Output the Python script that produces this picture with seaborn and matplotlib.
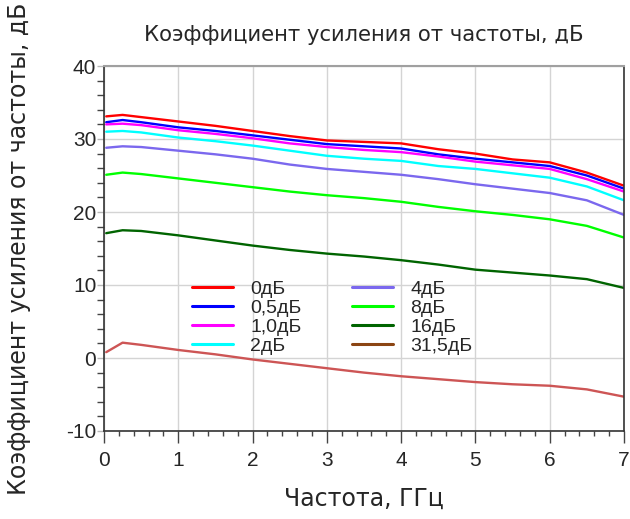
import matplotlib
matplotlib.use("Agg")
import matplotlib.pyplot as plt
from matplotlib.lines import Line2D
from matplotlib.ticker import MultipleLocator
import numpy as np
import pandas as pd
import seaborn as sns

# ---- data ----
freq = [0.03, 0.25, 0.5, 1, 1.5, 2, 2.5, 3, 3.5, 4, 4.5, 5, 5.5, 6, 6.5, 7]
labels = ["0дБ", "0,5дБ", "1,0дБ", "2дБ", "4дБ", "8дБ", "16дБ", "31,5дБ"]
g_0 = [33.1, 33.3, 33.0, 32.4, 31.8, 31.1, 30.4, 29.8, 29.6, 29.4, 28.6, 28.0, 27.2, 26.8, 25.4, 23.6]
g_05 = [32.3, 32.6, 32.3, 31.6, 31.1, 30.5, 29.9, 29.3, 29.0, 28.7, 27.9, 27.3, 26.8, 26.3, 25.0, 23.2]
g_10 = [32.0, 32.1, 31.9, 31.2, 30.7, 30.1, 29.4, 28.9, 28.5, 28.2, 27.6, 26.9, 26.4, 25.9, 24.5, 22.8]
g_2 = [31.0, 31.1, 30.9, 30.2, 29.7, 29.1, 28.4, 27.7, 27.3, 27.0, 26.3, 25.9, 25.3, 24.7, 23.5, 21.6]
g_4 = [28.8, 29.0, 28.9, 28.4, 27.9, 27.3, 26.5, 25.9, 25.5, 25.1, 24.5, 23.8, 23.2, 22.6, 21.6, 19.6]
g_8 = [25.1, 25.4, 25.2, 24.6, 24.0, 23.4, 22.8, 22.3, 21.9, 21.4, 20.7, 20.1, 19.6, 19.0, 18.1, 16.5]
g_16 = [17.1, 17.5, 17.4, 16.8, 16.1, 15.4, 14.8, 14.3, 13.9, 13.4, 12.8, 12.1, 11.7, 11.3, 10.8, 9.6]
g_315 = [0.8, 2.1, 1.8, 1.1, 0.5, -0.2, -0.8, -1.4, -2.0, -2.5, -2.9, -3.3, -3.6, -3.8, -4.3, -5.3]
series = [g_0, g_05, g_10, g_2, g_4, g_8, g_16, g_315]
xticks = [0, 1, 2, 3, 4, 5, 6, 7]
yticks = [-10, 0, 10, 20, 30, 40]

line_colors = ["#ff0000", "#0000ff", "#ff00ff", "#00ffff", "#7b68ee", "#00ff00", "#006400", "#cd5555"]
legend_colors = ["#ff0000", "#0000ff", "#ff00ff", "#00ffff", "#7b68ee", "#00ff00", "#006400", "#8b4513"]

df = pd.DataFrame(
    [(f, v, lab) for lab, vals in zip(labels, series) for f, v in zip(freq, vals)],
    columns=["freq", "gain", "att"],
)

sns.set_theme(style="white")
plt.rcParams["font.family"] = ["DejaVu Sans"]
plt.rcParams["axes.unicode_minus"] = False

fig = plt.figure(figsize=(6.3, 5.19), dpi=100)
ax = fig.add_axes([104 / 630, 1 - 431 / 519, 520 / 630, 365 / 519])

sns.lineplot(data=df, x="freq", y="gain", hue="att", hue_order=labels,
             palette=dict(zip(labels, line_colors)), linewidth=1.7,
             legend=False, ax=ax, sort=False)

ax.set_xlim(0, 7)
ax.set_ylim(-10, 40)
ax.set_xticks(xticks)
ax.set_yticks(yticks)
ax.xaxis.set_minor_locator(MultipleLocator(0.2))
ax.yaxis.set_minor_locator(MultipleLocator(2))
ax.grid(True, which="major", color="#d4d4d4", linewidth=1.0)
ax.set_axisbelow(True)

tickfont = "Liberation Sans"
for lab in ax.get_xticklabels() + ax.get_yticklabels():
    lab.set_fontfamily(tickfont)
    lab.set_fontsize(15)

ax.tick_params(axis="x", which="major", direction="out", length=8.5, width=1, color="#444444", pad=6, bottom=True)
ax.tick_params(axis="x", which="minor", direction="out", length=3.6, width=1, color="#444444", bottom=True)
ax.tick_params(axis="y", which="major", direction="out", length=5, width=1, color="#b8b8b8", pad=0.5, left=True)
ax.tick_params(axis="y", which="minor", direction="out", length=5, width=1, color="#444444", left=True)

for side in ["left", "right", "bottom"]:
    ax.spines[side].set_color("#333333")
    ax.spines[side].set_linewidth(1.2)
ax.spines["top"].set_color("#a0a0a0")
ax.spines["top"].set_linewidth(1.5)

ax.set_xlabel("Частота, ГГц", fontsize=17, labelpad=12)
ax.set_ylabel("Коэффициент усиления от частоты, дБ", fontsize=17)
ax.yaxis.set_label_coords(-0.14, 0.5)
ax.set_title("Коэффициент усиления от частоты, дБ", fontsize=15.2, pad=18)

handles = [Line2D([], [], color=c, linewidth=2.2) for c in legend_colors]
leg = ax.legend(handles, labels, ncol=2, frameon=False, loc="upper left",
                bbox_to_anchor=(0.169, 0.414), prop={"family": tickfont, "size": 14},
                handlelength=2.1, handletextpad=0.9, columnspacing=2.6,
                labelspacing=0.08, borderpad=0, borderaxespad=0)

fig.savefig("out.png", dpi=100)
